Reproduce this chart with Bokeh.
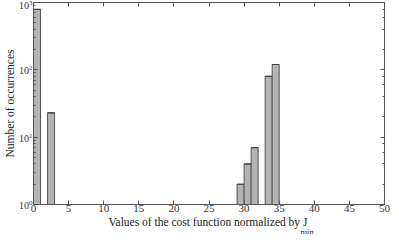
from bokeh.plotting import figure
from bokeh.models import LinearAxis, LogAxis, Title, FixedTicker, Range1d, CustomJSTickFormatter
from bokeh.embed import file_html
from bokeh.resources import INLINE

# histogram bins (left edges, unit width) and counts
bin_left = [0, 2, 3, 7, 12, 13, 24, 29, 30, 31, 32, 33, 34, 35, 47]
counts = [790, 23, 1, 1, 1, 1, 1, 2, 4, 7, 1, 80, 120, 1, 1]
x_ticks = [0, 5, 10, 15, 20, 25, 30, 35, 40, 45, 50]

FONT = "Liberation Serif"
EDGE = "#555555"

p = figure(width=391, height=234, output_backend="svg", toolbar_location=None,
           y_axis_type="log", x_range=Range1d(0, 50), y_range=Range1d(1, 1000),
           min_border_left=20, min_border_right=7, min_border_top=2, min_border_bottom=5)
p.background_fill_color = "white"
p.border_fill_color = "white"
p.outline_line_color = EDGE
p.grid.visible = False

bin_right = [b + 1 for b in bin_left]
p.quad(left=bin_left, right=bin_right, bottom=[1] * len(counts), top=counts,
       fill_color="#b3b3b3", line_color=EDGE, line_width=1)
p.segment(x0=bin_left, x1=bin_right, y0=counts, y1=counts, line_color="#444444", line_width=1.2)

blank = CustomJSTickFormatter(code="return ''")

def style(ax, labels=True, minor=True):
    ax.axis_line_color = EDGE
    ax.major_tick_line_color = EDGE
    ax.minor_tick_line_color = EDGE
    ax.major_tick_in = 4
    ax.major_tick_out = 0
    ax.minor_tick_in = 2 if minor else 0
    ax.minor_tick_out = 0
    ax.major_label_text_font = FONT
    ax.major_label_text_font_size = "11px"
    ax.major_label_text_color = "#333333"
    ax.major_label_standoff = 2
    if not labels:
        ax.formatter = blank

xa = p.xaxis[0]
xa.ticker = FixedTicker(ticks=x_ticks)
style(xa, minor=False)
xa.major_label_standoff = 0

ya = p.yaxis[0]
ya.axis_label = "Number of occurrences"
ya.axis_label_standoff = 0
ya.axis_label_text_font = FONT
ya.axis_label_text_font_size = "11.5px"
ya.axis_label_text_font_style = "normal"
ya.axis_label_text_color = "#222222"
style(ya)
ya.major_label_text_font_size = "10px"
ya.major_label_standoff = 1

top = LinearAxis(ticker=FixedTicker(ticks=x_ticks))
style(top, labels=False, minor=False)
p.add_layout(top, "above")
right = LogAxis()
style(right, labels=False)
p.add_layout(right, "right")

t1 = Title(text="Values of the cost function normalized by J", align="left", offset=75,
           standoff=-2, text_font=FONT, text_font_size="11.5px", text_font_style="normal",
           text_color="#222222")
p.add_layout(t1, "below")
t2 = Title(text="min", align="left", offset=267, standoff=-4,
           text_font=FONT, text_font_size="8.5px", text_font_style="normal",
           text_color="#222222")
p.add_layout(t2, "below")

open("out.html", "w").write(file_html(p, INLINE))
